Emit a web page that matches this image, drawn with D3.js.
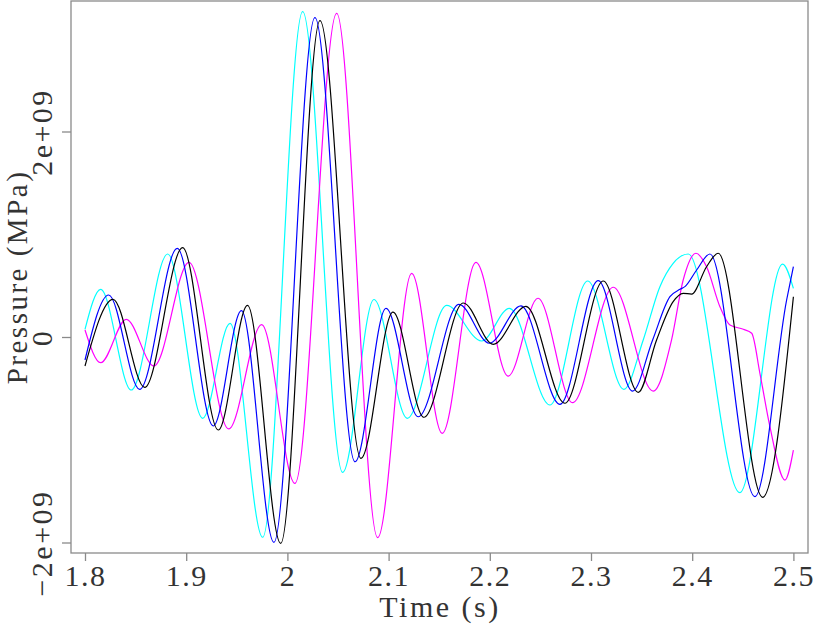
<!DOCTYPE html>
<html>
<head>
<meta charset="utf-8">
<script src="https://cdn.jsdelivr.net/npm/d3@7"></script>
<style>
  body { margin: 0; background: #fff; }
  text { font-family: "Liberation Serif", serif; fill: #333; }
</style>
</head>
<body>
<div id="chart"></div>
<script>
// time ticks and pressure ticks (pressure in units of 1e9)
let timeTicks = [1.8, 1.9, 2.0, 2.1, 2.2, 2.3, 2.4, 2.5];
let pressureTicks = [-2, 0, 2];

// traces: [time (s), pressure / 1e9]
let cyanTrace = [
  [1.800, 0.075], [1.8155, 0.464], [1.8457, -0.516], [1.8817, 0.808], [1.9163, -0.791],
  [1.9433, 0.133], [1.9756, -1.949], [2.0151, 3.166], [2.0546, -1.317], [2.0855, 0.365],
  [2.1184, -0.791], [2.1574, 0.307], [2.1919, -0.039], [2.2194, 0.279], [2.2594, -0.662],
  [2.2967, 0.545], [2.3325, -0.509], [2.3516, -0.029], [2.3681, 0.490], [2.3812, 0.717],
  [2.3961, 0.808], [2.4471, -1.515], [2.4893, 0.710], [2.500, 0.474]
];
let magentaTrace = [
  [1.800, 0.068], [1.8155, -0.250], [1.8408, 0.172], [1.8682, -0.282], [1.9028, 0.727],
  [1.9420, -0.895], [1.9746, 0.120], [2.0075, -1.424], [2.0487, 3.150], [2.0892, -1.953],
  [2.1228, 0.620], [2.1530, -0.937], [2.1863, 0.727], [2.2182, -0.380], [2.2476, 0.377],
  [2.2818, -0.639], [2.3220, 0.484], [2.3615, -0.526], [2.3796, -0.029], [2.3911, 0.555],
  [2.4037, 0.815], [2.4142, 0.684], [2.4274, 0.295], [2.4373, 0.117], [2.4505, 0.075],
  [2.4588, 0.036], [2.4669, -0.353], [2.4768, -0.873], [2.4916, -1.392], [2.500, -1.100]
];
let blueTrace = [
  [1.800, -0.224], [1.8234, 0.409], [1.8540, -0.509], [1.8912, 0.863], [1.9268, -0.866],
  [1.9546, 0.256], [1.9867, -1.998], [2.0272, 3.109], [2.0668, -1.214], [2.0974, 0.279],
  [2.1293, -0.776], [2.1695, 0.318], [2.1995, -0.061], [2.2308, 0.302], [2.2693, -0.655],
  [2.3071, 0.548], [2.3411, -0.526], [2.3609, -0.029], [2.3780, 0.392], [2.3879, 0.464],
  [2.3928, 0.490], [2.4044, 0.652], [2.4175, 0.808], [2.4620, -1.554], [2.4933, 0.360],
  [2.500, 0.684]
];
let blackTrace = [
  [1.800, -0.282], [1.8277, 0.367], [1.8590, -0.490], [1.8965, 0.869], [1.9317, -0.905],
  [1.9606, 0.307], [1.9934, -2.008], [2.0322, 3.080], [2.0727, -1.181], [2.1043, 0.243],
  [2.1349, -0.781], [2.1738, 0.331], [2.2034, -0.071], [2.2357, 0.299], [2.2742, -0.645],
  [2.3121, 0.545], [2.3467, -0.538], [2.3648, -0.029], [2.3812, 0.344], [2.3911, 0.425],
  [2.3994, 0.418], [2.4142, 0.684], [2.4257, 0.815], [2.4696, -1.560], [2.500, 0.392]
];

let traces = [
  {name: "cyan", color: "#00ffff", values: cyanTrace},
  {name: "magenta", color: "#ff00ff", values: magentaTrace},
  {name: "blue", color: "#0000ff", values: blueTrace},
  {name: "black", color: "#000000", values: blackTrace}
];

let margin = {top: 1, left: 71};
let width = 737, height = 552;

let svg = d3.select("#chart").append("svg")
    .attr("width", 814)
    .attr("height", 625);

let g = svg.append("g")
    .attr("transform", "translate(" + margin.left + "," + margin.top + ")");

let x = d3.scaleLinear().domain([1.8, 2.5]).range([14, 722.4]);
let y = d3.scaleLinear().domain([-2, 2]).range([541.5, 130.5]);

let line = d3.line()
    .x(d => x(d[0]))
    .y(d => y(d[1]))
    .curve(d3.curveMonotoneX);

g.selectAll(".trace")
    .data(traces)
    .enter()
    .append("path")
    .attr("class", "trace")
    .attr("d", d => line(d.values))
    .attr("fill", "none")
    .attr("stroke", d => d.color)
    .attr("stroke-width", 1.2);

// frame
g.append("rect")
    .attr("width", width)
    .attr("height", height)
    .attr("fill", "none")
    .attr("stroke", "#8a8a8a")
    .attr("stroke-width", 1.3);

let xAxis = d3.axisBottom(x)
    .tickValues(timeTicks)
    .tickSize(8)
    .tickFormat(d => d === 2 ? "2" : d3.format(".1f")(d));

let xAxisGroup = g.append("g")
    .attr("transform", "translate(0," + height + ")")
    .call(xAxis);
xAxisGroup.select(".domain").remove();
xAxisGroup.selectAll("line").attr("stroke", "#8a8a8a").attr("stroke-width", 1.3);
xAxisGroup.selectAll("text")
    .attr("y", 33)
    .attr("dy", null)
    .attr("fill", "#333")
    .style("font-size", "30px")
    .style("letter-spacing", "1.5px");

let yAxis = d3.axisLeft(y)
    .tickValues(pressureTicks)
    .tickSize(9)
    .tickFormat(d => d === 0 ? "0" : (d < 0 ? "\u2212" : "") + Math.abs(d) + "e+09");

let yAxisGroup = g.append("g").call(yAxis);
yAxisGroup.select(".domain").remove();
yAxisGroup.selectAll("line").attr("stroke", "#8a8a8a").attr("stroke-width", 1.3);
yAxisGroup.selectAll("text")
    .attr("transform", "rotate(-90)")
    .attr("x", 0)
    .attr("y", -19)
    .attr("dy", null)
    .attr("text-anchor", "middle")
    .attr("fill", "#333")
    .style("font-size", "30px")
    .style("letter-spacing", "2.5px");

// axis titles
svg.append("text")
    .attr("x", 440)
    .attr("y", 617)
    .attr("text-anchor", "middle")
    .style("font-size", "30px")
    .style("letter-spacing", "2.5px")
    .text("Time (s)");

svg.append("text")
    .attr("transform", "translate(27,277) rotate(-90)")
    .attr("text-anchor", "middle")
    .style("font-size", "29px")
    .style("letter-spacing", "2.5px")
    .text("Pressure (MPa)");
</script>
</body>
</html>
